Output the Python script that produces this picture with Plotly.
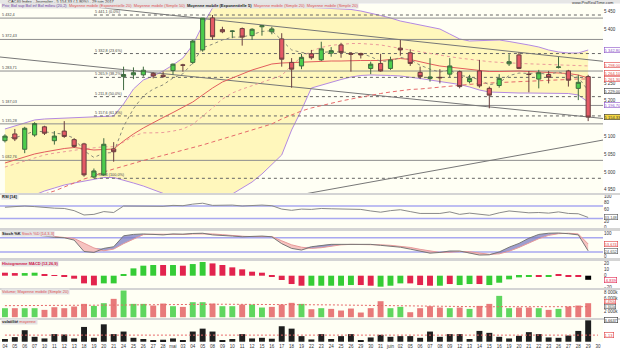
import plotly.graph_objects as go

dates = ["04","05","06","07","10","11","12","13","18","19","20","21","24","25","26","27","28",
         "mai","03","04","05","08","09","10","11","12","15","16","17","18","19","22","23","24","25","26","29","30","31",
         "juin","02","05","06","07","08","09","12","13","14","15","16","19","20","21","22","23","26","27","28","29","30"]

opens  = [5088,5107,5064,5104,5127,5088,5115,5091,5079,4986,4992,5065,5268,5273,5273,5277,5272,5285,5301,5308,
          5343,5433,5400,5395,5403,5383,5408,5394,5374,5308,5298,5332,5315,5334,5357,5333,5333,5291,5305,5291,
          5348,5335,5280,5263,5266,5275,5282,5254,5284,5235,5243,5304,5329,5275,5261,5274,5294,5284,5235,5268]
highs  = [5106,5121,5127,5140,5130,5115,5143,5095,5082,5010,5095,5084,5296,5294,5296,5280,5282,5305,5304,5371,
          5432,5441.1,5408,5398,5406,5404,5413,5408,5390,5320,5332,5343,5366,5351,5363,5336,5335,5310,5332,5324,
          5371,5345,5296,5320,5289,5320,5285,5273,5315,5240,5275,5331,5336,5284,5287,5284,5323,5287,5273,5273]
lows   = [5083,5087,5053,5099,5104,5077,5096,5068,4987,4982.4,4990,5029,5230,5261,5268,5263,5265,5273,5282,5303,
          5338,5371,5390,5376,5355,5371,5383,5387,5296,5237,5289,5316,5312,5324,5321,5282,5319,5275,5282,5287,
          5327,5298,5261,5254,5249,5266,5235,5249,5237,5179,5237,5298,5289,5224,5235,5249,5291,5240,5202,5143]
closes = [5101,5093,5123,5136,5109,5101,5100,5072,4992,5003,5078,5057,5274,5279,5286,5270,5268,5303,5300,5368,
          5432.4,5380,5394,5396,5379,5401,5411,5402,5317,5289,5322,5321,5346,5341,5336,5331,5329,5303,5284,5315,
          5343,5305,5268,5267,5265,5298,5240,5263,5242,5216,5263,5310,5291,5274,5279,5266,5295,5258,5252,5154.33]

bb_up = [5120.9,5129.3,5139.1,5146.2,5149.0,5150.4,5151.8,5153.2,5154.6,5156.0,5157.4,5157.4,
         5191.1,5233.2,5258.5,5269.8,5283.8,5300.7,5320.3,5356.8,5413.0,5460.8,
         5494.5,5505.7,5511.3,5511.3,5508.5,5502.9,5494.5,5483.2,5472.0,5462.2,
         5460.8,5459.4,5458.0,5456.6,5452.3,5446.7,5439.7,5432.7,5424.2,5418.6,
         5413.0,5407.4,5401.8,5387.7,5373.7,5368.1,5369.5,5370.9,5370.9,5366.7,
         5362.4,5356.8,5351.2,5342.8,5337.2,5334.4,5334.4,5342.8]
bb_lo = [4907.4,4915.8,4924.2,4935.5,4946.7,4955.1,4963.6,4969.2,4974.8,4980.4,4984.6,4984.6,
         4977.6,4969.2,4960.7,4949.5,4938.3,4929.8,4921.4,4910.2,4898.9,4898.9,
         4915.8,4938.3,4955.1,4972.0,4994.5,5019.8,5047.9,5118.1,5174.2,5236.0,
         5244.5,5252.9,5259.9,5266.9,5271.2,5272.6,5272.6,5271.2,5269.8,5266.9,
         5262.7,5258.5,5254.3,5250.1,5245.9,5238.9,5230.4,5224.8,5223.4,5222.0,
         5222.0,5222.0,5222.0,5222.0,5222.0,5220.6,5216.4,5196.7]
ema20 = [5025.4,5033.8,5042.2,5050.7,5056.3,5061.9,5066.1,5068.9,5066.1,5061.9,5063.3,5064.7,
         5087.2,5106.8,5123.7,5139.1,5153.2,5167.2,5181.3,5196.7,5216.4,5236.0,
         5252.9,5264.1,5275.4,5286.6,5295.0,5303.5,5306.3,5307.7,5309.1,5309.1,
         5310.5,5311.9,5311.9,5313.3,5313.3,5313.3,5313.3,5316.1,5318.9,5316.1,
         5309.1,5303.5,5297.8,5295.0,5290.8,5288.0,5285.2,5282.4,5282.4,5283.8,
         5283.8,5282.4,5281.0,5281.0,5279.6,5276.8,5272.6,5264.1]
sma50 = [4898.9,4910.2,4921.4,4929.8,4938.3,4946.7,4957.9,4969.2,4980.4,4988.8,5000.1,5008.5,
         5016.9,5025.4,5032.4,5039.4,5046.4,5053.5,5060.5,5067.5,5076.0,5084.4,
         5092.7,5101.2,5109.7,5118.1,5126.5,5135.0,5149.0,5160.3,5171.5,5180.0,
         5186.9,5193.9,5199.5,5205.1,5210.8,5216.4,5220.6,5224.8,5229.1,5231.9,
         5233.3,5236.0,5238.9,5241.7,5244.5,5247.3,5248.7,5250.1,5251.5,5252.9,
         5254.3,5255.7,5257.1,5258.5,5258.5,5259.9,5261.3,5261.3]
ema5 = [5098,5096,5105,5115,5113,5109,5106,5095,5060,5041,5053,5055,
        5128,5178,5214,5233,5245,5264,5276,5307,5349,5359,
        5371,5379,5379,5386,5395,5397,5370,5343,5336,5331,
        5336,5338,5337,5336,5334,5324,5311,5312,5322,5316,
        5300,5289,5281,5287,5271,5268,5259,5245,5251,5271,
        5278,5277,5278,5274,5281,5273,5266,5229]
sma20 = [5014,5023,5032,5041,5048,5053,5058,5061,5065,5068,5071,5071,
         5084,5101,5110,5110,5111,5115,5121,5134,5156,5180,
         5205,5222,5233,5242,5252,5261,5271,5300,5323,5340,
         5350,5356,5359,5361,5361,5360,5357,5352,5347,5343,
         5338,5333,5328,5324,5320,5316,5313,5310,5308,5306,
         5305,5304,5303,5302,5301,5300,5299,5298]

levels = [5432.4, 5372.43, 5283.71, 5187.03, 5135.28, 5032.76]
level_txt = ["5 432,4", "5 372,43", "5 283,71", "5 187,03", "5 135,28", "5 032,76"]
fib_vals = [5441.1, 5332.8, 5265.9, 5211.8, 5157.6, 4982.4]
fib_txt = ["5 441,1 (0,0%)", "5 332,8 (23,6%)", "5 265,9 (38,2%)", "5 211,8 (50,0%)",
           "5 157,6 (61,8%)", "4 982,4 (100,0%)"]
fib_start = 9
tl1_x, tl1_y = [-0.5, 60.5], [5323.1, 5150.4]
tl2_x, tl2_y = [-0.5, 60.5], [5491.8, 5311.1]
tl3_x, tl3_y = [25, 60.5], [4911.7, 5089.8]

rsi = [66,68,70,68,65,63,62,55,41,43,52,49,70,70,71,69,69,72,71,76,79,72,
       73,73,70,72,73,71,60,56,60,59,62,61,60,60,59,54,50,55,58,52,
       46,46,46,51,43,47,44,40,48,54,51,48,49,47,51,46,45,33.148]
stoch_k = [90,88,89,92,86,82,80,70,22,18,35,42,88,94,96,94,92,96,95,98,99,92,
           88,87,84,85,87,84,55,35,28,42,48,52,52,53,52,52,48,44,40,32,
           22,15,18,24,24,14,7,8,20,40,56,78,94,99,100,97,92,24.652]
stoch_d = [92,90,89,89,89,86,83,77,57,37,25,32,55,75,93,95,94,94,94,96,97,96,
           93,89,86,85,85,85,67,50,40,35,38,45,50,52,52,52,50,48,44,39,
           31,23,18,19,22,21,15,10,12,23,39,58,76,90,97,99,96,53.674]
macd_h = [5.0,4.4,4.4,5.0,2.2,0.5,-1.7,-5.0,-12.8,-16.1,-12.8,-12.8,
          2.8,12.2,16.7,17.8,17.8,17.8,16.7,19.4,22.8,20.5,
          17.8,13.9,10.6,6.7,5.0,-1.7,-7.2,-13.9,-16.7,-16.7,
          -16.7,-16.7,-16.7,-15.6,-15.6,-16.7,-18.3,-16.7,-12.8,-12.8,
          -15.6,-16.7,-16.7,-13.9,-15.6,-13.9,-13.9,-15.6,-11.7,-6.1,
          -2.8,-2.2,-1.7,-1.7,1.7,-1.7,-1.7,-6.839]
macd_dir = "rrggrrrrrrggggggrgrggrrrrrrrrrrgggggrrgggrrrgrggrgggggrgrrr"
volume = [2885,2885,2885,2885,2350,3200,2885,3420,4270,3630,4490,5880,8550,4270,4270,3740,4380,3530,3310,4810,
          4810,4380,3530,3530,4060,4060,3100,3310,4060,4600,4270,2560,2890,2670,2140,2780,1500,2890,5130,2890,
          3310,1600,2890,3530,3100,2890,3100,2670,3630,4270,6840,2890,3100,3100,2890,2350,2670,3420,3740,4490]
vol_ma = [3700,3700,3700,3700,3680,3680,3680,3680,3700,3700,3720,3760,3900,3950,4000,4020,4050,4060,4080,4100,
          4120,4140,4150,4150,4160,4160,4150,4140,4130,4120,4100,4060,4000,3950,3900,3850,3780,3720,3700,3650,
          3600,3520,3450,3420,3380,3350,3320,3300,3300,3320,3380,3380,3380,3370,3370,3360,3360,3360,3365,3365]
volat = [0.46,0.79,1.97,0.84,0.56,1.30,1.23,0.56,2.53,0.67,2.98,1.30,1.74,0.67,0.46,0.17,0.34,0.56,0.22,1.74,
         2.24,1.74,0.29,0.46,1.30,0.56,0.67,0.51,2.65,2.24,0.96,0.39,1.30,0.46,0.96,1.30,0.29,0.73,1.18,0.84,
         0.96,0.96,0.67,1.74,0.84,1.30,1.30,0.46,1.85,1.52,0.84,0.56,1.01,1.64,1.30,0.73,0.67,1.06,1.85,3.6637]
volat_ma = [1.13] * 61

main_ticks = [4950,5000,5050,5100,5200,5250,5400,5450]
main_tick_txt = ["4 950","5 000","5 050","5 100","5 200","5 250","5 400","5 450"]

# ---------------------------------------------------------------------------
H = 342.0
def dom(top, bot):
    return [(H - bot) / H, (H - top) / H]
def py(p):
    return (H - p) / H

xi = list(range(len(closes)))
xt = list(range(len(dates)))
xfull = [-0.5, len(dates) - 0.5]
MAIN_RANGE = [4941.1, 5472.0]

GREEN = "#4ccd4c"
RED = "#e45a66"
PURPLE = "#b48ae2"
fig = go.Figure()

def line(x, y, color, width=1, dash=None, yaxis="y", **kw):
    fig.add_trace(go.Scatter(x=x, y=y, mode="lines", yaxis=yaxis, hoverinfo="skip",
                             line=dict(color=color, width=width, dash=dash), showlegend=False, **kw))

# Bollinger
line(xi, bb_up, PURPLE)
line(xi, bb_lo, PURPLE, fill="tonexty", fillcolor="rgb(255,247,188)")
# support / resistance
for lv in levels:
    line(xfull, [lv, lv], "#8e8e8e", 1)
for fv in fib_vals:
    line([fib_start, xfull[1]], [fv, fv], "#666666", 1, dash="dot")
line(tl1_x, tl1_y, "#777777")
line(tl2_x, tl2_y, "#777777")
line(tl3_x, tl3_y, "#777777")
# moving averages
line(xi, sma50, "#e66a6a", 1, dash="4px,3px")
line(xi, sma20, "#eb9a9a", 1, dash="dot")
line(xi, ema20, "#e25d5d", 1)
line(xi, ema5, "#8a8a7a", 1, dash="dot")

# candles on an overlaying axis so they sit above the band fill
fig.add_trace(go.Candlestick(x=xi, open=opens, high=highs, low=lows, close=closes,
                             increasing=dict(fillcolor=GREEN, line=dict(color="#3f6a3f", width=1)),
                             decreasing=dict(fillcolor=RED, line=dict(color="#6a3f3f", width=1)),
                             whiskerwidth=0, showlegend=False, hoverinfo="skip", yaxis="y7"))

# RSI
line(xfull, [70, 70], "#a8a8f0", 1.5, yaxis="y2")
line(xfull, [30, 30], "#a8a8f0", 1.5, yaxis="y2")
line(xi, rsi, "#8a8a8a", 1, yaxis="y2")

# Stochastic
line(xfull, [80, 80], "#a8a8f0", 1.5, yaxis="y3")
line(xfull, [20, 20], "#a8a8f0", 1.5, yaxis="y3")
hi = [max(k, d) for k, d in zip(stoch_k, stoch_d)]
lo = [min(k, d) for k, d in zip(stoch_k, stoch_d)]
line(xi, stoch_d, "rgba(0,0,0,0)", 0, yaxis="y3")
line(xi, hi, "rgba(0,0,0,0)", 0, yaxis="y3", fill="tonexty", fillcolor="rgba(125,125,195,0.75)")
line(xi, stoch_d, "rgba(0,0,0,0)", 0, yaxis="y3")
line(xi, lo, "rgba(0,0,0,0)", 0, yaxis="y3", fill="tonexty", fillcolor="rgba(242,170,170,0.7)")
line(xi, stoch_d, "#e89a9a", 1, yaxis="y3")
line(xi, stoch_k, "#777777", 1, yaxis="y3")

# MACD histogram
mcol = ["#35cc35" if c == "g" else "#e2234d" for c in macd_dir]
fig.add_trace(go.Bar(x=xi, y=macd_h, width=0.6, yaxis="y4", marker=dict(color=mcol, line=dict(width=0)),
                     showlegend=False, hoverinfo="skip"))

# Volume
vcol = ["#5fd65f" if (i == 0 or closes[i] >= closes[i - 1]) else "#e87a7a" for i in xi]
fig.add_trace(go.Bar(x=xi, y=volume, width=0.6, yaxis="y5", marker=dict(color=vcol, line=dict(width=0)),
                     showlegend=False, hoverinfo="skip"))
line(xi, vol_ma, "#e66a6a", 1, dash="2px,2px", yaxis="y5")

# Volatility
fig.add_trace(go.Bar(x=xi, y=volat, width=0.6, yaxis="y6", marker=dict(color="#1e1e1e", line=dict(width=0)),
                     showlegend=False, hoverinfo="skip"))
line(xt, volat_ma, "#e66a6a", 1, dash="2px,2px", yaxis="y6")

ax_common = dict(side="right", showgrid=False, zeroline=False, showline=False, ticks="",
                 tickfont=dict(size=4.5, color="#333", family="Arial"), automargin=False, fixedrange=True)
fig.update_layout(
    width=620, height=349, margin=dict(l=0, r=17, t=0, b=7),
    template="none", paper_bgcolor="white", plot_bgcolor="#fffff4",
    showlegend=False, barmode="overlay", boxgap=0.4,
    xaxis=dict(range=xfull, anchor="y6", showgrid=False, zeroline=False, showline=False, ticks="",
               tickvals=xt, ticktext=dates, tickangle=0,
               tickfont=dict(size=4.5, color="#333", family="Arial"),
               rangeslider=dict(visible=False), automargin=False, fixedrange=True),
    yaxis=dict(domain=dom(4, 193), range=MAIN_RANGE, tickvals=main_ticks, ticktext=main_tick_txt, **ax_common),
    yaxis7=dict(overlaying="y", range=MAIN_RANGE, visible=False, fixedrange=True),
    yaxis2=dict(domain=dom(195, 228), range=[-0.97, 105.5], tickvals=[0, 20, 60, 80, 100], **ax_common),
    yaxis3=dict(domain=dom(231, 258), range=[-5.5, 108.4], tickvals=[0, 100], **ax_common),
    yaxis4=dict(domain=dom(261, 288), range=[-20.5, 24.5], tickvals=[-20, 0, 10, 20], **ax_common),
    yaxis5=dict(domain=dom(290, 318), range=[-256, 8718], tickvals=[2000, 6000, 8000],
                ticktext=["2 000k", "6 000k", "8 000k"], **ax_common),
    yaxis6=dict(domain=dom(320, 342), range=[-0.05, 3.72], tickvals=[], **ax_common),
)

shapes = []
for a, b in [(193, 195), (228, 231), (258, 261), (288, 290), (318, 320)]:
    shapes.append(dict(type="rect", xref="paper", yref="paper", x0=0, x1=620 / 603, y0=py(b), y1=py(a),
                       fillcolor="#d4d4d4", line=dict(width=0), layer="above"))
shapes.append(dict(type="rect", xref="paper", yref="paper", x0=0, x1=620 / 603, y0=py(3.6), y1=1.02,
                   fillcolor="#e6e6e6", line=dict(width=0), layer="above"))
fig.update_layout(shapes=shapes)

ann = []
F = "Arial"
def text(x, y, s, color="#333", size=4, xref="paper", yref="paper", bg=None, xanchor="left", yanchor="middle", **kw):
    ann.append(dict(x=x, y=y, xref=xref, yref=yref, text=s, showarrow=False, xanchor=xanchor, yanchor=yanchor,
                    font=dict(size=size, color=color, family=F), bgcolor=bg, borderpad=0, **kw))

text(0.012, py(1.8), "CAC40 Index - Journalier - 5 154,33 (-1,80%) - 29 juin 2017", "#222", 4)
text(1.02, py(2.2), "www.ProRealTime.com", "#333", 4, xanchor="right")
text(0.002, py(5.8), "<span style='color:#6d3aa0'>Prix; Bol sup Bol inf Bol milieu (20,2)</span>  "
     "<span style='color:#e05050'>Moyenne mobile (Exponentielle 20)  Moyenne mobile (Simple 50)</span>  "
     "<b>Moyenne mobile (Exponentielle 5)</b>  "
     "<span style='color:#e05050'>Moyenne mobile (Simple 20)  Moyenne mobile (Simple 20)</span>",
     "#222", 4, bg="#e4e4e4")
text(0.002, py(197), "<b>RSI [14]</b>", "#222", 4, bg="#e4e4e4")
text(0.002, py(233), "<b>Stoch %K</b> <span style='color:#e05050'>Stoch %D [14,3,3]</span>", "#222", 4, bg="#e4e4e4")
text(0.002, py(263), "<b>Histogramme MACD (12,26,9)</b>", "#d0204a", 4, bg="#e4e4e4")
text(0.002, py(291.5), "Volume; Moyenne mobile (Simple 20)", "#e05050", 4, bg="#e4e4e4")
text(0.002, py(321.5), "<b>volatilité</b> <span style='color:#e05050'>moyenne</span>", "#222", 4, bg="#e4e4e4")

for lv, t in zip(levels, level_txt):
    text(-0.4, lv, t, "#444", 3.8, xref="x", yref="y", yanchor="bottom")
for fv, t in zip(fib_vals, fib_txt):
    text(fib_start, fv, t, "#444", 3.8, xref="x", yref="y", yanchor="bottom")

def box(yv, yref, s, color, bg="white", yshift=0, size=4):
    ann.append(dict(x=1, y=yv, xref="paper", yref=yref, text=s, showarrow=False, xanchor="left", yanchor="middle",
                    xshift=1, yshift=yshift, font=dict(size=size, color=color, family=F), bgcolor=bg,
                    bordercolor=color, borderwidth=0.6, borderpad=0))

box(bb_up[-1], "y", "5 342,80", "#8a50c8")
box(sma20[-1], "y", "5 298,00", "#e04040", yshift=1)
box(ema20[-1], "y", "5 264,10", "#e04040", yshift=5.5)
box(sma50[-1], "y", "5 261,30", "#e04040", yshift=0.5)
box(ema5[-1], "y", "5 229,00", "#333")
box(bb_lo[-1], "y", "5 196,70", "#8a50c8", yshift=-3)
box(closes[-1], "y", "5 154,33", "#333", bg="#f6d743")
box(rsi[-1], "y2", "33,148", "#555")
box(stoch_d[-1], "y3", "53,674", "#e04040")
box(stoch_k[-1], "y3", "24,652", "#555")
box(macd_h[-1], "y4", "-6,839", "#e2234d")
box(volume[-1], "y5", "4 490k", "#e04040", yshift=1.5, size=3.6)
box(vol_ma[-1], "y5", "3 365k", "#555", yshift=0, size=3.6)
box(volat[-1], "y6", "3,6637", "#333")
box(volat_ma[-1], "y6", "1,13", "#e04040")

fig.update_layout(annotations=ann)
fig.write_html("out.html")
